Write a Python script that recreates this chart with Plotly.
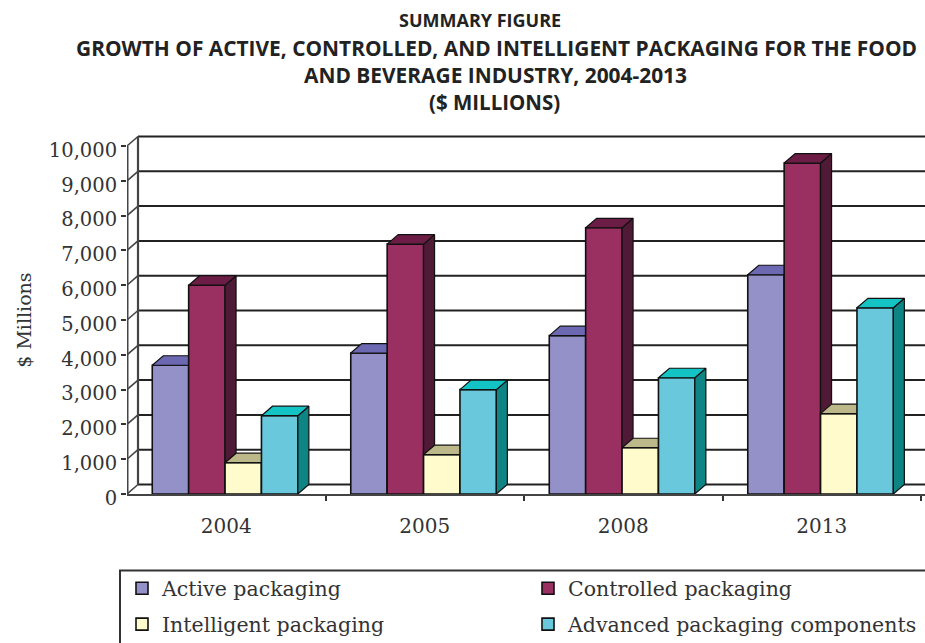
import plotly.graph_objects as go

# Market size by year and packaging type, $ millions
years = ["2004", "2005", "2008", "2013"]
active = [3700, 4050, 4550, 6300]
controlled = [6000, 7180, 7650, 9510]
intelligent = [900, 1130, 1330, 2310]
advanced = [2250, 3000, 3340, 5350]

series_names = ["Active packaging", "Controlled packaging",
                "Intelligent packaging", "Advanced packaging components"]
series_values = [active, controlled, intelligent, advanced]
front_colors = ["#9490C8", "#9A2F62", "#FFFBCC", "#69C8DB"]
top_colors = ["#6C68B2", "#6B1D45", "#BDB88A", "#14C4C4"]
side_colors = ["#4E4B86", "#4F1A35", "#8E8A60", "#0F8484"]

y_ticks = list(range(0, 10001, 1000))
y_labels = [f"{v:,}" for v in y_ticks]
title_lines = ["SUMMARY FIGURE",
               "GROWTH OF ACTIVE, CONTROLLED, AND INTELLIGENT PACKAGING FOR THE FOOD",
               "AND BEVERAGE INDUSTRY, 2004-2013",
               "($ MILLIONS)"]

# Page and plot-area layout
W, H = 925, 643
M_L, M_T, M_B = 127, 130, 148.5
CAT_PX = 198.5
PX_PER_UNIT = 0.03485
X_MAX = (W - M_L) / CAT_PX
Y_MAX = (H - M_B - M_T) / PX_PER_UNIT

# Oblique projection of the chart's depth, in data units
DX = 11 / CAT_PX
DY = 9.5 / PX_PER_UNIT
BAR_W = 36.4 / CAT_PX
GROUP_SHIFT = -0.006

SERIF = "DejaVu Serif"
TEXT = "#333333"
GRID = "#222222"
WALL = "#444444"

fig = go.Figure()


def line(xs, ys, color, width):
    fig.add_trace(go.Scatter(x=xs, y=ys, mode="lines",
                             line=dict(color=color, width=width),
                             hoverinfo="skip", showlegend=False))


# Back wall: horizontal gridlines pushed back by the depth offset
for v in y_ticks:
    line([DX, X_MAX + 1], [v + DY, v + DY], GRID, 2)
    line([0, DX], [v, v + DY], WALL, 1.6)
line([DX, DX], [DY, y_ticks[-1] + DY], WALL, 2.2)
line([0, 0], [0, y_ticks[-1]], WALL, 3)

# Each series has its own overlaid axes and its own legend box
legend_ids = ["legend", "legend2", "legend3", "legend4"]

# One overlaid axis pair per series, so later series paint over earlier ones
for i, (name, vals) in enumerate(zip(series_names, series_values)):
    ax_x, ax_y = f"x{i + 2}", f"y{i + 2}"
    lefts = [k + 0.5 + GROUP_SHIFT + (i - 2) * BAR_W for k in range(len(years))]
    side_x, side_y, top_x, top_y = [], [], [], []
    for x0, v in zip(lefts, vals):
        x1 = x0 + BAR_W
        side_x += [x1, x1 + DX, x1 + DX, x1, x1, None]
        side_y += [0, DY, v + DY, v, 0, None]
        top_x += [x0, x0 + DX, x1 + DX, x1, x0, None]
        top_y += [v, v + DY, v + DY, v, v, None]
    for xs, ys, col in ((side_x, side_y, side_colors[i]), (top_x, top_y, top_colors[i])):
        fig.add_trace(go.Scatter(x=xs, y=ys, mode="lines", fill="toself", fillcolor=col,
                                 line=dict(color="#111111", width=1.2), xaxis=ax_x, yaxis=ax_y,
                                 hoverinfo="skip", showlegend=False))
    fig.add_trace(go.Bar(x=[x + BAR_W / 2 for x in lefts], y=vals, width=BAR_W, name=name,
                         marker=dict(color=front_colors[i], line=dict(color="#111111", width=1.6)),
                         xaxis=ax_x, yaxis=ax_y, legend=legend_ids[i]))

layout_axes = {}
for i in range(len(series_names)):
    layout_axes[f"xaxis{i + 2}"] = dict(visible=False, overlaying="x", matches="x", range=[0, X_MAX])
    layout_axes[f"yaxis{i + 2}"] = dict(visible=False, overlaying="y", matches="y", range=[0, Y_MAX])


def paper_x(px):
    return (px - M_L) / (W - M_L)


def paper_y(py):
    return (H - M_B - py) / (H - M_B - M_T)


legend_left = [122, 528, 122, 528]
legend_row = [589, 589, 625, 625]
layout_legends = {
    lid: dict(orientation="h", xanchor="left", yanchor="middle",
              x=paper_x(lx), y=paper_y(ly), bgcolor="rgba(0,0,0,0)", borderwidth=0,
              font=dict(family=SERIF, size=20.5, color=TEXT))
    for lid, lx, ly in zip(legend_ids, legend_left, legend_row)
}

title_rows = [20, 48, 75, 102]
title_centers = [480, 496, 495, 494]
title_sizes = [18, 20.9, 20.9, 20.5]
annotations = [dict(text=t, xref="paper", yref="paper", x=paper_x(cx), y=paper_y(py),
                    xanchor="center", yanchor="middle", showarrow=False,
                    font=dict(family="Open Sans", size=s, color="#222222", weight="bold"))
               for t, py, cx, s in zip(title_lines, title_rows, title_centers, title_sizes)]
annotations.append(dict(text="$ Millions", xref="paper", yref="paper",
                        x=paper_x(24), y=paper_y(321), textangle=-90,
                        xanchor="center", yanchor="middle", showarrow=False,
                        font=dict(family=SERIF, size=19, color=TEXT)))

fig.update_layout(
    width=W, height=H, autosize=False,
    margin=dict(l=M_L, r=0, t=M_T, b=M_B, pad=0, autoexpand=False),
    paper_bgcolor="white", plot_bgcolor="white",
    barmode="overlay",
    xaxis=dict(range=[0, X_MAX], tickmode="array",
               tickvals=[k + 0.5 for k in range(len(years))], ticktext=years,
               ticks="", ticklen=0, ticklabelstandoff=13, showgrid=False, zeroline=False,
               showline=True, linecolor=WALL, linewidth=2.4,
               tickfont=dict(family=SERIF, size=20, color=TEXT),
               minor=dict(tickmode="array", tickvals=[1, 2, 3, 4], ticks="outside",
                          ticklen=5, tickwidth=1.6, tickcolor=TEXT, showgrid=False)),
    yaxis=dict(range=[0, Y_MAX], tickmode="array", tickvals=y_ticks, ticktext=y_labels,
               ticks="outside", ticklen=5, tickwidth=1.6, tickcolor=TEXT,
               ticklabelshift=4, showgrid=False, zeroline=False, showline=False,
               tickfont=dict(family=SERIF, size=19.5, color=TEXT)),
    annotations=annotations,
    shapes=[dict(type="rect", xref="paper", yref="paper",
                 x0=paper_x(120), x1=paper_x(1000), y0=paper_y(720), y1=paper_y(571),
                 line=dict(color=TEXT, width=2), layer="below")],
    **layout_legends,
    **layout_axes,
)

fig.write_html("out.html", config=dict(displayModeBar=False))
